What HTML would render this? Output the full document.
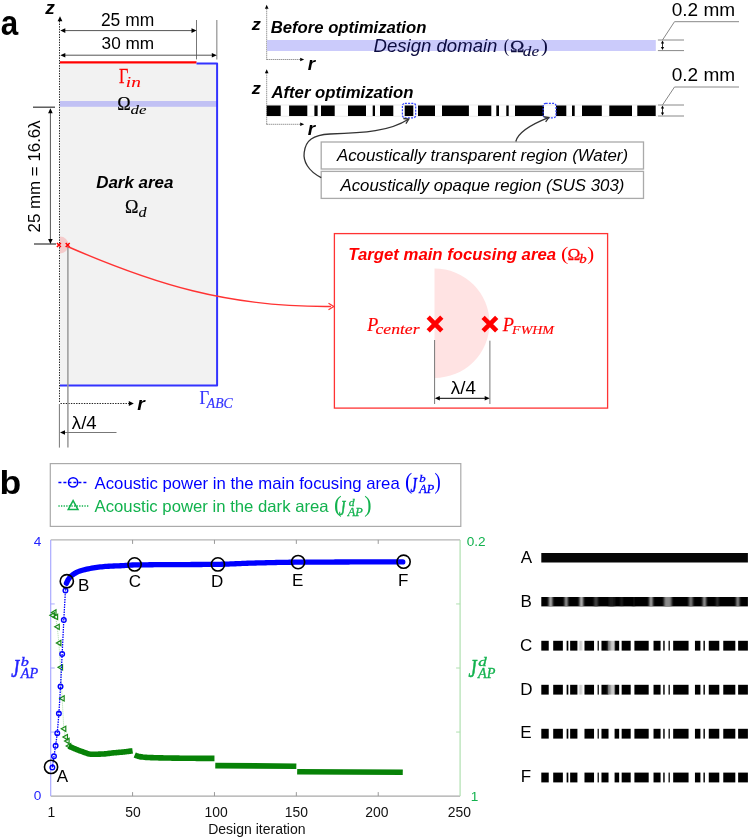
<!DOCTYPE html>
<html><head><meta charset="utf-8"><style>
html,body{margin:0;padding:0;background:#fff;}
svg{display:block;will-change:transform;}
</style></head><body>
<svg width="750" height="839" viewBox="0 0 750 839">
<defs><filter id="bl" x="-5%" y="-50%" width="110%" height="200%"><feGaussianBlur stdDeviation="0.9 0.5"/></filter></defs>
<rect x="0" y="0" width="750" height="839" fill="#fff"/>
<text transform="translate(0.87,34.60) scale(0.9065,1)" font-family="Liberation Sans" font-size="34.55" font-weight="bold" fill="#000">a</text>
<rect x="60.00" y="63.50" width="157.00" height="322.00" fill="#f2f2f2" />
<rect x="60.00" y="101.00" width="157.00" height="5.80" fill="#c1c1f4" />
<line x1="60" y1="62.4" x2="196.5" y2="62.4" stroke="#ff0000" stroke-width="2.3" />
<path d="M196.5,63.6 H217.1 V385.6 H60" fill="none" stroke="#3333ff" stroke-width="2" stroke-linejoin="round"/>
<line x1="59.5" y1="21" x2="59.5" y2="403" stroke="#222" stroke-width="1" stroke-dasharray="1.4,1.2"/>
<path d="M60.00,16.20 L62.40,21.20 L57.60,21.20 Z" fill="#000"/>
<text transform="translate(45.23,13.80) scale(1.0742,1)" font-family="Liberation Sans" font-size="17.82" font-weight="bold" font-style="italic" fill="#000">z</text>
<line x1="60.5" y1="403.5" x2="129.5" y2="403.5" stroke="#222" stroke-width="1" stroke-dasharray="1.4,1.2"/>
<path d="M133.80,403.50 L128.80,405.90 L128.80,401.10 Z" fill="#000"/>
<text transform="translate(137.18,409.60) scale(1.0093,1)" font-family="Liberation Sans" font-size="19.27" font-weight="bold" font-style="italic" fill="#000">r</text>
<line x1="196.5" y1="20" x2="196.5" y2="59.4" stroke="#777" stroke-width="1" />
<line x1="216.8" y1="20" x2="216.8" y2="59.4" stroke="#999" stroke-width="1.3" />
<line x1="64" y1="30.6" x2="192" y2="30.6" stroke="#555" stroke-width="1" />
<path d="M60.30,30.60 L65.30,28.30 L65.30,32.90 Z" fill="#000"/>
<path d="M196.50,30.60 L191.50,32.90 L191.50,28.30 Z" fill="#000"/>
<line x1="64" y1="55.2" x2="212.5" y2="55.2" stroke="#555" stroke-width="1" />
<path d="M60.30,55.20 L65.30,52.90 L65.30,57.50 Z" fill="#000"/>
<path d="M216.80,55.20 L211.80,57.50 L211.80,52.90 Z" fill="#000"/>
<text transform="translate(100.91,26.00)" font-family="Liberation Sans" font-size="17.45" fill="#000">25 mm</text>
<text transform="translate(101.61,49.00)" font-family="Liberation Sans" font-size="17.22" fill="#000">30 mm</text>
<text transform="translate(118.94,82.70) scale(0.7961,1)" font-family="Liberation Serif" font-size="20.31" fill="#ff0000" stroke="#ff0000" stroke-width="0.25">Γ</text>
<text transform="translate(125.78,86.50) scale(1.2718,1)" font-family="Liberation Serif" font-size="15.27" font-style="italic" fill="#ff0000" stroke="#ff0000" stroke-width="0.08">in</text>
<text transform="translate(117.15,110.10) scale(0.9101,1)" font-family="Liberation Serif" font-size="19.85" fill="#000" stroke="#000" stroke-width="0.25">Ω</text>
<text transform="translate(130.50,114.00) scale(1.3252,1)" font-family="Liberation Serif" font-size="12.74" font-style="italic" fill="#000" stroke="#000" stroke-width="0.08">de</text>
<text transform="translate(96.23,188.20)" font-family="Liberation Sans" font-size="16.92" font-weight="bold" font-style="italic" fill="#000">Dark area</text>
<text transform="translate(125.05,212.60) scale(0.9172,1)" font-family="Liberation Serif" font-size="19.69" fill="#000" stroke="#000" stroke-width="0.25">Ω</text>
<text transform="translate(138.52,216.80) scale(1.1769,1)" font-family="Liberation Serif" font-size="13.72" font-style="italic" fill="#000" stroke="#000" stroke-width="0.08">d</text>
<line x1="33" y1="107.2" x2="55" y2="107.2" stroke="#444" stroke-width="1.3" />
<line x1="34" y1="244" x2="56" y2="244" stroke="#444" stroke-width="1.3" />
<line x1="50.4" y1="112" x2="50.4" y2="240" stroke="#555" stroke-width="1" />
<path d="M50.40,108.20 L52.70,113.20 L48.10,113.20 Z" fill="#000"/>
<path d="M50.40,244.00 L48.10,239.00 L52.70,239.00 Z" fill="#000"/>
<text transform="translate(40.30,232.46) rotate(-90) scale(1.0299,1)" font-family="Liberation Sans" font-size="16.408" fill="#000">25 mm = 16.6λ</text>
<path d="M60,236.5 A8.5,8.5 0 0 1 60,253.5 Z" fill="#f4c4c4" opacity="0.85"/>
<line x1="67.9" y1="246" x2="67.9" y2="447.6" stroke="#999" stroke-width="1.5" />
<line x1="59.4" y1="404" x2="59.4" y2="447.6" stroke="#777" stroke-width="1" />
<line x1="64" y1="432.5" x2="116.5" y2="432.5" stroke="#777" stroke-width="1" />
<path d="M60.00,432.50 L65.00,430.30 L65.00,434.70 Z" fill="#000"/>
<text transform="translate(71.84,429.10) scale(1.0268,1)" font-family="Liberation Sans" font-size="18.13" fill="#000">λ/4</text>
<path d="M56.9,243 L60.9,247 M60.9,243 L56.9,247" stroke="#ff0000" stroke-width="1.5"/>
<path d="M65.7,243 L69.7,247 M69.7,243 L65.7,247" stroke="#ff0000" stroke-width="1.5"/>
<path d="M67.5,246.5 C153,283.7 227.7,307.4 331,306.5" fill="none" stroke="#ff3333" stroke-width="1.4"/>
<path d="M328.5,303.3 L333.8,306.5 L328.5,309.7" fill="none" stroke="#ff3333" stroke-width="1.2"/>
<text transform="translate(199.62,403.90) scale(0.8503,1)" font-family="Liberation Serif" font-size="19.69" fill="#3333ff" stroke="#3333ff" stroke-width="0.25">Γ</text>
<text transform="translate(206.80,407.60) scale(0.9581,1)" font-family="Liberation Serif" font-size="14.31" font-style="italic" fill="#3333ff" stroke="#3333ff" stroke-width="0.2">ABC</text>
<line x1="266.7" y1="8.7" x2="266.7" y2="59.5" stroke="#444" stroke-width="0.8" stroke-dasharray="1,1"/>
<path d="M266.70,4.70 L268.50,8.70 L264.90,8.70 Z" fill="#000"/>
<line x1="266.7" y1="59.5" x2="300.5" y2="59.5" stroke="#444" stroke-width="0.8" stroke-dasharray="1,1"/>
<path d="M304.20,59.50 L300.20,61.30 L300.20,57.70 Z" fill="#000"/>
<text transform="translate(251.73,30.40) scale(1.0960,1)" font-family="Liberation Sans" font-size="16.55" font-weight="bold" font-style="italic" fill="#000">z</text>
<text transform="translate(307.79,70.20) scale(1.0227,1)" font-family="Liberation Sans" font-size="18.55" font-weight="bold" font-style="italic" fill="#000">r</text>
<text transform="translate(270.64,33.10)" font-family="Liberation Sans" font-size="16.69" font-weight="bold" font-style="italic" fill="#000">Before optimization</text>
<rect x="267.00" y="40.00" width="388.80" height="11.00" fill="#cbcbfb" />
<text transform="translate(373.59,52.10)" font-family="Liberation Sans" font-size="18.57" font-style="italic" fill="#0c0c40">Design domain</text>
<text transform="translate(503.85,52.06) scale(0.8856,1)" font-family="Liberation Serif" font-size="18.15" fill="#0c0c40" stroke="#0c0c40" stroke-width="0">(</text>
<text transform="translate(509.89,52.00) scale(1.1008,1)" font-family="Liberation Serif" font-size="17.54" fill="#0c0c40" stroke="#0c0c40" stroke-width="0.25">Ω</text>
<text transform="translate(522.78,56.10) scale(1.2299,1)" font-family="Liberation Serif" font-size="14.00" font-style="italic" fill="#0c0c40" stroke="#0c0c40" stroke-width="0.08">de</text>
<text transform="translate(541.04,52.04) scale(1.1336,1)" font-family="Liberation Serif" font-size="18.24" fill="#0c0c40" stroke="#0c0c40" stroke-width="0">)</text>
<line x1="657.9" y1="40" x2="684" y2="40" stroke="#888" stroke-width="1" />
<line x1="657.9" y1="50.6" x2="684" y2="50.6" stroke="#888" stroke-width="1" />
<line x1="662.5" y1="43" x2="662.5" y2="47.6" stroke="#000" stroke-width="0.8" />
<path d="M662.50,40.50 L664.10,43.50 L660.90,43.50 Z" fill="#000"/>
<path d="M662.50,50.10 L660.90,47.10 L664.10,47.10 Z" fill="#000"/>
<path d="M662.5,40 L674.5,21.7 H739" fill="none" stroke="#888" stroke-width="1"/>
<text transform="translate(671.70,15.80)" font-family="Liberation Sans" font-size="19.05" fill="#000">0.2 mm</text>
<line x1="266.7" y1="73.3" x2="266.7" y2="124.3" stroke="#444" stroke-width="0.8" stroke-dasharray="1,1"/>
<path d="M266.70,69.30 L268.50,73.30 L264.90,73.30 Z" fill="#000"/>
<line x1="266.7" y1="124.3" x2="300.5" y2="124.3" stroke="#444" stroke-width="0.8" stroke-dasharray="1,1"/>
<path d="M304.20,124.30 L300.20,126.10 L300.20,122.50 Z" fill="#000"/>
<text transform="translate(251.73,94.00) scale(1.1464,1)" font-family="Liberation Sans" font-size="15.82" font-weight="bold" font-style="italic" fill="#000">z</text>
<text transform="translate(307.79,135.00) scale(1.0754,1)" font-family="Liberation Sans" font-size="17.64" font-weight="bold" font-style="italic" fill="#000">r</text>
<text transform="translate(271.42,97.80)" font-family="Liberation Sans" font-size="16.72" font-weight="bold" font-style="italic" fill="#000">After optimization</text>
<line x1="657.9" y1="105" x2="684" y2="105" stroke="#888" stroke-width="1" />
<line x1="657.9" y1="116" x2="684" y2="116" stroke="#888" stroke-width="1" />
<line x1="662.5" y1="108" x2="662.5" y2="113" stroke="#000" stroke-width="0.8" />
<path d="M662.50,105.50 L664.10,108.50 L660.90,108.50 Z" fill="#000"/>
<path d="M662.50,115.50 L660.90,112.50 L664.10,112.50 Z" fill="#000"/>
<path d="M662.5,105 L674.5,87 H739" fill="none" stroke="#888" stroke-width="1"/>
<text transform="translate(671.70,81.10)" font-family="Liberation Sans" font-size="19.05" fill="#000">0.2 mm</text>
<line x1="267" y1="105" x2="657" y2="105" stroke="#e6e6e6" stroke-width="0.8" />
<line x1="267" y1="116.3" x2="657" y2="116.3" stroke="#e6e6e6" stroke-width="0.8" />
<rect x="266.70" y="105.50" width="14.00" height="10.50" fill="#000" />
<rect x="289.10" y="105.50" width="18.20" height="10.50" fill="#000" />
<rect x="314.40" y="105.50" width="3.20" height="10.50" fill="#000" />
<rect x="321.00" y="105.50" width="13.70" height="10.50" fill="#000" />
<rect x="348.00" y="105.50" width="18.00" height="10.50" fill="#000" />
<rect x="372.70" y="105.50" width="2.30" height="10.50" fill="#000" />
<rect x="380.00" y="105.50" width="13.30" height="10.50" fill="#000" />
<rect x="404.70" y="105.50" width="8.60" height="10.50" fill="#000" />
<rect x="418.00" y="105.50" width="17.00" height="10.50" fill="#000" />
<rect x="442.00" y="105.50" width="26.90" height="10.50" fill="#000" />
<rect x="478.00" y="105.50" width="13.30" height="10.50" fill="#000" />
<rect x="496.30" y="105.50" width="2.70" height="10.50" fill="#000" />
<rect x="506.30" y="105.50" width="2.40" height="10.50" fill="#000" />
<rect x="515.00" y="105.50" width="29.00" height="10.50" fill="#000" />
<rect x="556.00" y="105.50" width="10.30" height="10.50" fill="#000" />
<rect x="572.00" y="105.50" width="2.70" height="10.50" fill="#000" />
<rect x="582.00" y="105.50" width="19.80" height="10.50" fill="#000" />
<rect x="609.30" y="105.50" width="22.70" height="10.50" fill="#000" />
<rect x="637.30" y="105.50" width="18.40" height="10.50" fill="#000" />
<rect x="402.4" y="103.3" width="13.3" height="14.5" rx="2.5" fill="none" stroke="#3344ff" stroke-width="1.2" stroke-dasharray="2,1.2"/>
<rect x="543.2" y="103.3" width="12.8" height="14.5" rx="2.5" fill="none" stroke="#3344ff" stroke-width="1.2" stroke-dasharray="2,1.2"/>
<rect x="321.2" y="142" width="322.3" height="27" fill="#fff" stroke="#aaa" stroke-width="1.3"/>
<rect x="321.2" y="171.4" width="322.3" height="27" fill="#fff" stroke="#aaa" stroke-width="1.3"/>
<text transform="translate(336.92,161.20)" font-family="Liberation Sans" font-size="16.86" font-style="italic" fill="#000">Acoustically transparent region (Water)</text>
<text transform="translate(340.52,191.00)" font-family="Liberation Sans" font-size="16.81" font-style="italic" fill="#000">Acoustically opaque region (SUS 303)</text>
<path d="M321.2,177.6 C308,171 303,161 304.2,152.5 C305.5,140 313,135 330,134 C365,133 390,131 408.4,119.2" fill="none" stroke="#333" stroke-width="1.3"/>
<path d="M403.32,118.48 L408.80,119.00 L405.93,123.69" fill="none" stroke="#333" stroke-width="1.3" stroke-linejoin="miter"/>
<path d="M515.8,141.5 C518,133 530,125 548.4,117.7" fill="none" stroke="#333" stroke-width="1.3"/>
<path d="M543.37,116.62 L548.80,117.50 L545.63,121.99" fill="none" stroke="#333" stroke-width="1.3" stroke-linejoin="miter"/>
<rect x="334.4" y="233.6" width="273.2" height="174.5" fill="#fff" stroke="#ff3333" stroke-width="1.3"/>
<path d="M434.5,268.6 A55,54.7 0 0 1 434.5,378 Z" fill="#ffe3e3"/>
<text transform="translate(348.33,259.80)" font-family="Liberation Sans" font-size="16.74" font-weight="bold" font-style="italic" fill="#ff0000">Target main focusing area</text>
<text transform="translate(560.98,259.91) scale(1.1948,1)" font-family="Liberation Serif" font-size="18.38" fill="#ff0000" stroke="#ff0000" stroke-width="0">(</text>
<text transform="translate(567.48,259.60) scale(1.0120,1)" font-family="Liberation Serif" font-size="17.23" fill="#ff0000" stroke="#ff0000" stroke-width="0.25">Ω</text>
<text transform="translate(579.36,263.20) scale(1.2654,1)" font-family="Liberation Serif" font-size="11.77" font-style="italic" fill="#ff0000" stroke="#ff0000" stroke-width="0.25">b</text>
<text transform="translate(587.34,259.90) scale(1.1198,1)" font-family="Liberation Serif" font-size="18.47" fill="#ff0000" stroke="#ff0000" stroke-width="0">)</text>
<path d="M428.2,317.2 L441.8,330.8 M441.8,317.2 L428.2,330.8" stroke="#ff0000" stroke-width="4.6"/>
<path d="M483.09999999999997,317.3 L496.7,330.90000000000003 M496.7,317.3 L483.09999999999997,330.90000000000003" stroke="#ff0000" stroke-width="4.6"/>
<text transform="translate(367.33,330.60) scale(0.9289,1)" font-family="Liberation Serif" font-size="19.23" font-style="italic" fill="#ff0000" stroke="#ff0000" stroke-width="0.25">P</text>
<text transform="translate(375.56,334.30) scale(1.2438,1)" font-family="Liberation Serif" font-size="14.15" font-style="italic" fill="#ff0000" stroke="#ff0000" stroke-width="0.15">center</text>
<text transform="translate(502.73,330.60) scale(0.9466,1)" font-family="Liberation Serif" font-size="19.23" font-style="italic" fill="#ff0000" stroke="#ff0000" stroke-width="0.25">P</text>
<text transform="translate(512.12,334.30) scale(1.0680,1)" font-family="Liberation Serif" font-size="13.08" font-style="italic" fill="#ff0000" stroke="#ff0000" stroke-width="0.15">FWHM</text>
<line x1="434.6" y1="340" x2="434.6" y2="404" stroke="#777" stroke-width="1" />
<line x1="489.9" y1="340.7" x2="489.9" y2="404" stroke="#777" stroke-width="1" />
<line x1="439" y1="398.3" x2="485.5" y2="398.3" stroke="#000" stroke-width="1" />
<path d="M434.80,398.30 L439.80,396.10 L439.80,400.50 Z" fill="#000"/>
<path d="M489.70,398.30 L484.70,400.50 L484.70,396.10 Z" fill="#000"/>
<text transform="translate(450.84,393.50) scale(1.0130,1)" font-family="Liberation Sans" font-size="18.53" fill="#000">λ/4</text>
<text transform="translate(-0.57,493.80) scale(1.0541,1)" font-family="Liberation Sans" font-size="33.73" font-weight="bold" fill="#000">b</text>
<rect x="50.3" y="463.6" width="410.5" height="62.8" fill="#fff" stroke="#aaa" stroke-width="1.2"/>
<line x1="58.4" y1="482.4" x2="88.1" y2="482.4" stroke="#0000ff" stroke-width="1.5" stroke-dasharray="3,2"/>
<circle cx="73.1" cy="482.4" r="4.6" fill="none" stroke="#0000ff" stroke-width="1.5"/>
<line x1="58.4" y1="506" x2="88.5" y2="506" stroke="#12b24e" stroke-width="1.5" stroke-dasharray="1.3,1.3"/>
<path d="M73.1,500.6 L78,509.6 L68.2,509.6 Z" fill="none" stroke="#12b24e" stroke-width="1.5"/>
<text transform="translate(94.59,488.70)" font-family="Liberation Sans" font-size="16.74" fill="#0000ff">Acoustic power in the main focusing area</text>
<text transform="translate(405.00,489.07) scale(0.9342,1)" font-family="Liberation Serif" font-size="23.08" fill="#0000ff" stroke="#0000ff" stroke-width="0">(</text>
<text transform="translate(410.51,491.80) scale(0.6510,1)" font-family="Liberation Serif" font-size="22.00" font-style="italic" fill="#0000ff" stroke="#0000ff" stroke-width="0.6">J</text>
<text transform="translate(419.35,481.90) scale(1.1863,1)" font-family="Liberation Serif" font-size="10.79" font-style="italic" fill="#0000ff" stroke="#0000ff" stroke-width="0.3">b</text>
<text transform="translate(419.13,492.60) scale(1.0392,1)" font-family="Liberation Serif" font-size="11.85" font-style="italic" fill="#0000ff" stroke="#0000ff" stroke-width="0.3">AP</text>
<text transform="translate(434.60,489.05) scale(0.8090,1)" font-family="Liberation Serif" font-size="23.20" fill="#0000ff" stroke="#0000ff" stroke-width="0">)</text>
<text transform="translate(94.59,511.50)" font-family="Liberation Sans" font-size="16.72" fill="#12b24e">Acoustic power in the dark area</text>
<text transform="translate(333.92,512.06) scale(1.0220,1)" font-family="Liberation Serif" font-size="22.64" fill="#12b24e" stroke="#12b24e" stroke-width="0">(</text>
<text transform="translate(339.11,514.70) scale(0.6650,1)" font-family="Liberation Serif" font-size="21.54" font-style="italic" fill="#12b24e" stroke="#12b24e" stroke-width="0.6">J</text>
<text transform="translate(348.65,505.60) scale(1.1279,1)" font-family="Liberation Serif" font-size="10.36" font-style="italic" fill="#12b24e" stroke="#12b24e" stroke-width="0.3">d</text>
<text transform="translate(347.73,515.50) scale(1.0392,1)" font-family="Liberation Serif" font-size="11.85" font-style="italic" fill="#12b24e" stroke="#12b24e" stroke-width="0.3">AP</text>
<text transform="translate(364.21,512.04) scale(0.9597,1)" font-family="Liberation Serif" font-size="22.75" fill="#12b24e" stroke="#12b24e" stroke-width="0">)</text>
<line x1="50.7" y1="539.9" x2="460.1" y2="539.9" stroke="#b4b4b4" stroke-width="1.2" />
<line x1="50.7" y1="796.1" x2="460.1" y2="796.1" stroke="#a8a8a8" stroke-width="1.2" />
<line x1="50.7" y1="539.9" x2="50.7" y2="796.1" stroke="#aaaaff" stroke-width="1.2" />
<line x1="460.1" y1="539.9" x2="460.1" y2="796.1" stroke="#b0e0b0" stroke-width="1.2" />
<line x1="132.58" y1="796.1" x2="132.58" y2="792.1" stroke="#999" stroke-width="1" />
<line x1="132.58" y1="539.9" x2="132.58" y2="543.9" stroke="#999" stroke-width="1" />
<line x1="214.46000000000004" y1="796.1" x2="214.46000000000004" y2="792.1" stroke="#999" stroke-width="1" />
<line x1="214.46000000000004" y1="539.9" x2="214.46000000000004" y2="543.9" stroke="#999" stroke-width="1" />
<line x1="296.34000000000003" y1="796.1" x2="296.34000000000003" y2="792.1" stroke="#999" stroke-width="1" />
<line x1="296.34000000000003" y1="539.9" x2="296.34000000000003" y2="543.9" stroke="#999" stroke-width="1" />
<line x1="378.22" y1="796.1" x2="378.22" y2="792.1" stroke="#999" stroke-width="1" />
<line x1="378.22" y1="539.9" x2="378.22" y2="543.9" stroke="#999" stroke-width="1" />
<line x1="50.7" y1="732.05" x2="54.7" y2="732.05" stroke="#aaaaff" stroke-width="1" />
<line x1="460.1" y1="732.05" x2="456.1" y2="732.05" stroke="#b0e0b0" stroke-width="1" />
<line x1="50.7" y1="668.0" x2="54.7" y2="668.0" stroke="#aaaaff" stroke-width="1" />
<line x1="460.1" y1="668.0" x2="456.1" y2="668.0" stroke="#b0e0b0" stroke-width="1" />
<line x1="50.7" y1="603.95" x2="54.7" y2="603.95" stroke="#aaaaff" stroke-width="1" />
<line x1="460.1" y1="603.95" x2="456.1" y2="603.95" stroke="#b0e0b0" stroke-width="1" />
<text transform="translate(47.44,816.70)" font-family="Liberation Sans" font-size="13.90" fill="#111">1</text>
<text transform="translate(125.33,816.60)" font-family="Liberation Sans" font-size="13.90" fill="#111">50</text>
<text transform="translate(204.54,816.80)" font-family="Liberation Sans" font-size="13.90" fill="#111">100</text>
<text transform="translate(284.84,816.80)" font-family="Liberation Sans" font-size="13.90" fill="#111">150</text>
<text transform="translate(365.19,816.80)" font-family="Liberation Sans" font-size="13.90" fill="#111">200</text>
<text transform="translate(447.79,816.80)" font-family="Liberation Sans" font-size="13.90" fill="#111">250</text>
<text transform="translate(208.16,833.60)" font-family="Liberation Sans" font-size="14.03" fill="#111">Design iteration</text>
<text transform="translate(33.67,545.70)" font-family="Liberation Sans" font-size="13.60" fill="#2222ff">4</text>
<text transform="translate(33.83,800.40)" font-family="Liberation Sans" font-size="13.60" fill="#2222ff">0</text>
<text transform="translate(466.63,546.10)" font-family="Liberation Sans" font-size="13.60" fill="#12b24e">0.2</text>
<text transform="translate(470.76,801.20)" font-family="Liberation Sans" font-size="13.60" fill="#12b24e">1</text>
<polyline points="52.34,615.30 53.98,612.50 55.61,616.90 57.25,626.80 58.89,643.00 60.53,667.30 62.16,698.40 63.80,728.80 65.44,737.10 67.08,741.00 68.71,746.10" fill="none" stroke="#a6dca6" stroke-width="1" stroke-dasharray="1,1"/>
<path d="M49.84,615.30 L54.34,612.70 L54.34,617.90 Z" fill="none" stroke="#1a8a1a" stroke-width="1.2"/>
<path d="M51.48,612.50 L55.98,609.90 L55.98,615.10 Z" fill="none" stroke="#1a8a1a" stroke-width="1.2"/>
<path d="M53.11,616.90 L57.61,614.30 L57.61,619.50 Z" fill="none" stroke="#1a8a1a" stroke-width="1.2"/>
<path d="M54.75,626.80 L59.25,624.20 L59.25,629.40 Z" fill="none" stroke="#1a8a1a" stroke-width="1.2"/>
<path d="M56.39,643.00 L60.89,640.40 L60.89,645.60 Z" fill="none" stroke="#1a8a1a" stroke-width="1.2"/>
<path d="M58.03,667.30 L62.53,664.70 L62.53,669.90 Z" fill="none" stroke="#1a8a1a" stroke-width="1.2"/>
<path d="M59.66,698.40 L64.16,695.80 L64.16,701.00 Z" fill="none" stroke="#1a8a1a" stroke-width="1.2"/>
<path d="M61.30,728.80 L65.80,726.20 L65.80,731.40 Z" fill="none" stroke="#1a8a1a" stroke-width="1.2"/>
<path d="M62.94,737.10 L67.44,734.50 L67.44,739.70 Z" fill="none" stroke="#1a8a1a" stroke-width="1.2"/>
<path d="M64.58,741.00 L69.08,738.40 L69.08,743.60 Z" fill="none" stroke="#1a8a1a" stroke-width="1.2"/>
<path d="M66.21,746.10 L70.71,743.50 L70.71,748.70 Z" fill="none" stroke="#1a8a1a" stroke-width="1.2"/>
<polyline points="68.71,746.10 69.52,746.46 70.33,746.83 71.14,747.18 71.95,747.53 72.76,747.88 73.56,748.22 74.37,748.56 75.18,748.90 75.99,749.23 76.80,749.56 77.61,749.89 78.41,750.22 79.22,750.54 80.03,750.84 80.84,751.14 81.65,751.41 82.46,751.70 83.27,751.99 84.07,752.30 84.88,752.61 85.69,752.91 86.50,753.19 87.31,753.46 88.12,753.70 88.92,753.91 89.73,754.08 90.54,754.21 91.35,754.28 92.16,754.30 92.97,754.30 93.78,754.29 94.58,754.28 95.39,754.26 96.20,754.24 97.01,754.22 97.82,754.20 98.63,754.17 99.43,754.14 100.24,754.11 101.05,754.07 101.86,754.04 102.67,754.00 103.48,753.96 104.28,753.91 105.09,753.84 105.90,753.76 106.71,753.67 107.52,753.58 108.33,753.48 109.14,753.38 109.94,753.28 110.75,753.18 111.56,753.08 112.37,752.99 113.18,752.91 113.99,752.83 114.79,752.75 115.60,752.68 116.41,752.61 117.22,752.54 118.03,752.47 118.84,752.40 119.65,752.33 120.45,752.26 121.26,752.18 122.07,752.10 122.88,752.02 123.69,751.94 124.50,751.85 125.30,751.76 126.11,751.67 126.92,751.57 127.73,751.47 128.54,751.36 129.35,751.25 130.15,751.14 130.96,751.03 131.77,750.92 132.58,750.80" fill="none" stroke="#078207" stroke-width="5.6" stroke-linejoin="round"/>
<polyline points="134.71,755.00 136.34,755.66 137.96,756.23 139.59,756.64 141.22,756.87 142.85,757.07 144.47,757.22 146.10,757.35 147.73,757.45 149.36,757.52 150.98,757.58 152.61,757.63 154.24,757.69 155.87,757.74 157.49,757.78 159.12,757.83 160.75,757.87 162.38,757.91 164.01,757.94 165.63,757.98 167.26,758.01 168.89,758.04 170.52,758.06 172.14,758.09 173.77,758.11 175.40,758.13 177.03,758.15 178.65,758.17 180.28,758.19 181.91,758.20 183.54,758.22 185.16,758.23 186.79,758.25 188.42,758.26 190.05,758.28 191.67,758.29 193.30,758.30 194.93,758.32 196.56,758.33 198.18,758.34 199.81,758.35 201.44,758.36 203.07,758.37 204.69,758.38 206.32,758.38 207.95,758.39 209.58,758.39 211.20,758.40 212.83,758.40 214.46,758.40" fill="none" stroke="#078207" stroke-width="5.6" stroke-linejoin="round"/>
<polyline points="215.28,765.6 296.34,766.2" fill="none" stroke="#078207" stroke-width="5.6"/>
<polyline points="297.16,771.7 402.78,772.2" fill="none" stroke="#078207" stroke-width="5.6"/>
<polyline points="52.34,767.50 53.98,756.30 55.61,745.80 57.25,733.20 58.89,713.60 60.53,686.50 62.16,653.90 63.80,620.10 65.44,590.50 67.08,583.90 68.71,579.00" fill="none" stroke="#0000ff" stroke-width="1.3" stroke-dasharray="1.5,1"/>
<circle cx="52.34" cy="767.50" r="2.3" fill="none" stroke="#0000ff" stroke-width="1.4"/>
<circle cx="53.98" cy="756.30" r="2.3" fill="none" stroke="#0000ff" stroke-width="1.4"/>
<circle cx="55.61" cy="745.80" r="2.3" fill="none" stroke="#0000ff" stroke-width="1.4"/>
<circle cx="57.25" cy="733.20" r="2.3" fill="none" stroke="#0000ff" stroke-width="1.4"/>
<circle cx="58.89" cy="713.60" r="2.3" fill="none" stroke="#0000ff" stroke-width="1.4"/>
<circle cx="60.53" cy="686.50" r="2.3" fill="none" stroke="#0000ff" stroke-width="1.4"/>
<circle cx="62.16" cy="653.90" r="2.3" fill="none" stroke="#0000ff" stroke-width="1.4"/>
<circle cx="63.80" cy="620.10" r="2.3" fill="none" stroke="#0000ff" stroke-width="1.4"/>
<circle cx="65.44" cy="590.50" r="2.3" fill="none" stroke="#0000ff" stroke-width="1.4"/>
<polyline points="66.42,583.20 68.11,579.80 69.80,577.41 71.49,575.74 73.18,574.42 74.87,573.33 76.56,572.40 78.25,571.62 79.94,571.00 81.63,570.46 83.32,569.99 85.01,569.56 86.70,569.17 88.39,568.81 90.08,568.48 91.77,568.17 93.47,567.88 95.16,567.61 96.85,567.36 98.54,567.14 100.23,566.94 101.92,566.78 103.61,566.62 105.30,566.48 106.99,566.36 108.68,566.25 110.37,566.15 112.06,566.06 113.75,565.99 115.44,565.93 117.13,565.88 118.82,565.83 120.51,565.76 122.20,565.69 123.89,565.58 125.58,565.45 127.27,565.31 128.96,565.18 130.65,565.07 132.34,565.01 134.03,564.97 135.72,564.94 137.41,564.91 139.10,564.89 140.79,564.86 142.48,564.84 144.17,564.82 145.86,564.80 147.55,564.78 149.24,564.76 150.93,564.75 152.62,564.73 154.31,564.72 156.01,564.71 157.70,564.70 159.39,564.69 161.08,564.68 162.77,564.66 164.46,564.65 166.15,564.64 167.84,564.63 169.53,564.62 171.22,564.61 172.91,564.60 174.60,564.59 176.29,564.58 177.98,564.57 179.67,564.57 181.36,564.56 183.05,564.55 184.74,564.54 186.43,564.54 188.12,564.53 189.81,564.53 191.50,564.52 193.19,564.51 194.88,564.51 196.57,564.50 198.26,564.49 199.95,564.49 201.64,564.48 203.33,564.47 205.02,564.46 206.71,564.45 208.40,564.44 210.09,564.43 211.78,564.42 213.47,564.41 215.16,564.39 216.85,564.37 218.54,564.34 220.24,564.31 221.93,564.26 223.62,564.21 225.31,564.16 227.00,564.10 228.69,564.04 230.38,563.97 232.07,563.90 233.76,563.83 235.45,563.76 237.14,563.69 238.83,563.61 240.52,563.54 242.21,563.47 243.90,563.40 245.59,563.33 247.28,563.26 248.97,563.20 250.66,563.14 252.35,563.09 254.04,563.04 255.73,562.99 257.42,562.95 259.11,562.91 260.80,562.86 262.49,562.82 264.18,562.78 265.87,562.74 267.56,562.69 269.25,562.65 270.94,562.61 272.63,562.57 274.32,562.54 276.01,562.50 277.70,562.46 279.39,562.43 281.08,562.40 282.78,562.36 284.47,562.34 286.16,562.31 287.85,562.28 289.54,562.26 291.23,562.24 292.92,562.23 294.61,562.21 296.30,562.20 297.99,562.19 299.68,562.18 301.37,562.17 303.06,562.16 304.75,562.16 306.44,562.15 308.13,562.14 309.82,562.13 311.51,562.12 313.20,562.11 314.89,562.11 316.58,562.10 318.27,562.09 319.96,562.08 321.65,562.08 323.34,562.07 325.03,562.06 326.72,562.05 328.41,562.05 330.10,562.04 331.79,562.03 333.48,562.03 335.17,562.02 336.86,562.02 338.55,562.01 340.24,562.01 341.93,562.00 343.62,561.99 345.31,561.99 347.01,561.98 348.70,561.98 350.39,561.97 352.08,561.97 353.77,561.96 355.46,561.96 357.15,561.96 358.84,561.95 360.53,561.95 362.22,561.94 363.91,561.94 365.60,561.94 367.29,561.93 368.98,561.93 370.67,561.93 372.36,561.93 374.05,561.92 375.74,561.92 377.43,561.92 379.12,561.92 380.81,561.91 382.50,561.91 384.19,561.91 385.88,561.91 387.57,561.91 389.26,561.90 390.95,561.90 392.64,561.90 394.33,561.90 396.02,561.90 397.71,561.90 399.40,561.90 401.09,561.90 402.78,561.90" fill="none" stroke="#0000ff" stroke-width="5.3" stroke-linejoin="round" stroke-linecap="round"/>
<circle cx="51.05" cy="766.9" r="6.6" fill="none" stroke="#000" stroke-width="1.6"/>
<circle cx="66.8" cy="581.2" r="6.6" fill="none" stroke="#000" stroke-width="1.6"/>
<circle cx="134.6" cy="564.4" r="6.6" fill="none" stroke="#000" stroke-width="1.6"/>
<circle cx="217.9" cy="564.4" r="6.6" fill="none" stroke="#000" stroke-width="1.6"/>
<circle cx="298.1" cy="562.1" r="6.6" fill="none" stroke="#000" stroke-width="1.6"/>
<circle cx="403.6" cy="561.7" r="6.6" fill="none" stroke="#000" stroke-width="1.6"/>
<text transform="translate(56.69,781.80)" font-family="Liberation Sans" font-size="17.00" fill="#000">A</text>
<text transform="translate(77.92,590.70)" font-family="Liberation Sans" font-size="17.00" fill="#000">B</text>
<text transform="translate(128.73,587.40)" font-family="Liberation Sans" font-size="17.00" fill="#000">C</text>
<text transform="translate(211.02,587.20)" font-family="Liberation Sans" font-size="17.00" fill="#000">D</text>
<text transform="translate(292.02,585.80)" font-family="Liberation Sans" font-size="17.00" fill="#000">E</text>
<text transform="translate(398.12,585.80)" font-family="Liberation Sans" font-size="17.00" fill="#000">F</text>
<text transform="translate(11.34,677.30) scale(0.7053,1)" font-family="Liberation Serif" font-size="25.54" font-style="italic" fill="#2222ff" stroke="#2222ff" stroke-width="0.6">J</text>
<text transform="translate(20.80,665.70) scale(1.2775,1)" font-family="Liberation Serif" font-size="12.75" font-style="italic" fill="#2222ff" stroke="#2222ff" stroke-width="0.3">b</text>
<text transform="translate(20.73,677.80) scale(0.9945,1)" font-family="Liberation Serif" font-size="14.31" font-style="italic" fill="#2222ff" stroke="#2222ff" stroke-width="0.3">AP</text>
<text transform="translate(468.53,677.30) scale(0.7269,1)" font-family="Liberation Serif" font-size="25.08" font-style="italic" fill="#12b24e" stroke="#12b24e" stroke-width="0.6">J</text>
<text transform="translate(478.19,665.70) scale(1.3641,1)" font-family="Liberation Serif" font-size="12.46" font-style="italic" fill="#12b24e" stroke="#12b24e" stroke-width="0.3">d</text>
<text transform="translate(478.03,677.80) scale(0.9945,1)" font-family="Liberation Serif" font-size="14.31" font-style="italic" fill="#12b24e" stroke="#12b24e" stroke-width="0.3">AP</text>
<text transform="translate(520.69,562.70)" font-family="Liberation Sans" font-size="17.00" fill="#000">A</text>
<text transform="translate(520.62,606.60)" font-family="Liberation Sans" font-size="17.00" fill="#000">B</text>
<text transform="translate(519.93,650.90)" font-family="Liberation Sans" font-size="17.00" fill="#000">C</text>
<text transform="translate(520.22,694.70)" font-family="Liberation Sans" font-size="17.00" fill="#000">D</text>
<text transform="translate(520.22,738.40)" font-family="Liberation Sans" font-size="17.00" fill="#000">E</text>
<text transform="translate(520.72,782.10)" font-family="Liberation Sans" font-size="17.00" fill="#000">F</text>
<rect x="541.30" y="553.00" width="206.60" height="9.50" fill="#060606" />
<rect x="541.30" y="597.00" width="206.60" height="9.40" fill="#000" />
<g filter="url(#bl)">
<rect x="548.80" y="597.00" width="3.60" height="9.40" fill="#b4b4b4" />
<rect x="564.70" y="597.00" width="3.00" height="9.40" fill="#a4a4a4" />
<rect x="579.60" y="597.00" width="3.60" height="9.40" fill="#bcbcbc" />
<rect x="594.00" y="597.00" width="4.00" height="9.40" fill="#404040" />
<rect x="608.60" y="597.00" width="6.00" height="9.40" fill="#1c1c1c" />
<rect x="620.85" y="597.00" width="1.50" height="9.40" fill="#333" />
<rect x="632.60" y="597.00" width="2.00" height="9.40" fill="#111" />
<rect x="649.30" y="597.00" width="3.40" height="9.40" fill="#acacac" />
<rect x="664.05" y="597.00" width="7.50" height="9.40" fill="#8a8a8a" />
<rect x="688.90" y="597.00" width="3.80" height="9.40" fill="#7a7a7a" />
<rect x="702.70" y="597.00" width="3.40" height="9.40" fill="#9a9a9a" />
<rect x="716.40" y="597.00" width="2.00" height="9.40" fill="#444" />
<rect x="736.30" y="597.00" width="3.00" height="9.40" fill="#9a9a9a" />
</g>
<rect x="541.30" y="640.80" width="7.44" height="9.80" fill="#000" />
<rect x="553.20" y="640.80" width="9.67" height="9.80" fill="#000" />
<rect x="566.63" y="640.80" width="1.70" height="9.80" fill="#000" />
<rect x="570.14" y="640.80" width="7.28" height="9.80" fill="#000" />
<rect x="584.48" y="640.80" width="9.56" height="9.80" fill="#000" />
<rect x="597.60" y="640.80" width="1.22" height="9.80" fill="#000" />
<rect x="601.47" y="640.80" width="7.06" height="9.80" fill="#000" />
<rect x="614.59" y="640.80" width="4.57" height="9.80" fill="#000" />
<rect x="621.66" y="640.80" width="9.03" height="9.80" fill="#000" />
<rect x="634.40" y="640.80" width="14.29" height="9.80" fill="#000" />
<rect x="653.52" y="640.80" width="7.06" height="9.80" fill="#000" />
<rect x="663.24" y="640.80" width="1.43" height="9.80" fill="#000" />
<rect x="668.55" y="640.80" width="1.27" height="9.80" fill="#000" />
<rect x="673.17" y="640.80" width="15.40" height="9.80" fill="#000" />
<rect x="694.95" y="640.80" width="5.47" height="9.80" fill="#000" />
<rect x="703.45" y="640.80" width="1.43" height="9.80" fill="#000" />
<rect x="708.76" y="640.80" width="10.52" height="9.80" fill="#000" />
<rect x="723.26" y="640.80" width="12.06" height="9.80" fill="#000" />
<rect x="738.13" y="640.80" width="9.77" height="9.80" fill="#000" />
<rect x="541.30" y="684.80" width="7.44" height="9.80" fill="#000" />
<rect x="553.20" y="684.80" width="9.67" height="9.80" fill="#000" />
<rect x="566.63" y="684.80" width="1.70" height="9.80" fill="#000" />
<rect x="570.14" y="684.80" width="7.28" height="9.80" fill="#000" />
<rect x="584.48" y="684.80" width="9.56" height="9.80" fill="#000" />
<rect x="597.60" y="684.80" width="1.22" height="9.80" fill="#000" />
<rect x="601.47" y="684.80" width="7.06" height="9.80" fill="#000" />
<rect x="614.59" y="684.80" width="4.57" height="9.80" fill="#000" />
<rect x="621.66" y="684.80" width="9.03" height="9.80" fill="#000" />
<rect x="634.40" y="684.80" width="14.29" height="9.80" fill="#000" />
<rect x="653.52" y="684.80" width="7.06" height="9.80" fill="#000" />
<rect x="663.24" y="684.80" width="1.43" height="9.80" fill="#000" />
<rect x="668.55" y="684.80" width="1.27" height="9.80" fill="#000" />
<rect x="673.17" y="684.80" width="15.40" height="9.80" fill="#000" />
<rect x="694.95" y="684.80" width="5.47" height="9.80" fill="#000" />
<rect x="703.45" y="684.80" width="1.43" height="9.80" fill="#000" />
<rect x="708.76" y="684.80" width="10.52" height="9.80" fill="#000" />
<rect x="723.26" y="684.80" width="12.06" height="9.80" fill="#000" />
<rect x="738.13" y="684.80" width="9.77" height="9.80" fill="#000" />
<rect x="541.30" y="728.80" width="7.44" height="9.80" fill="#000" />
<rect x="553.20" y="728.80" width="9.67" height="9.80" fill="#000" />
<rect x="566.63" y="728.80" width="1.70" height="9.80" fill="#000" />
<rect x="570.14" y="728.80" width="7.28" height="9.80" fill="#000" />
<rect x="584.48" y="728.80" width="9.56" height="9.80" fill="#000" />
<rect x="597.60" y="728.80" width="1.22" height="9.80" fill="#000" />
<rect x="601.47" y="728.80" width="7.06" height="9.80" fill="#000" />
<rect x="614.59" y="728.80" width="4.57" height="9.80" fill="#000" />
<rect x="621.66" y="728.80" width="9.03" height="9.80" fill="#000" />
<rect x="634.40" y="728.80" width="14.29" height="9.80" fill="#000" />
<rect x="653.52" y="728.80" width="7.06" height="9.80" fill="#000" />
<rect x="663.24" y="728.80" width="1.43" height="9.80" fill="#000" />
<rect x="668.55" y="728.80" width="1.27" height="9.80" fill="#000" />
<rect x="673.17" y="728.80" width="15.40" height="9.80" fill="#000" />
<rect x="694.95" y="728.80" width="5.47" height="9.80" fill="#000" />
<rect x="703.45" y="728.80" width="1.43" height="9.80" fill="#000" />
<rect x="708.76" y="728.80" width="10.52" height="9.80" fill="#000" />
<rect x="723.26" y="728.80" width="12.06" height="9.80" fill="#000" />
<rect x="738.13" y="728.80" width="9.77" height="9.80" fill="#000" />
<rect x="541.30" y="772.60" width="7.44" height="9.80" fill="#000" />
<rect x="553.20" y="772.60" width="9.67" height="9.80" fill="#000" />
<rect x="566.63" y="772.60" width="1.70" height="9.80" fill="#000" />
<rect x="570.14" y="772.60" width="7.28" height="9.80" fill="#000" />
<rect x="584.48" y="772.60" width="9.56" height="9.80" fill="#000" />
<rect x="597.60" y="772.60" width="1.22" height="9.80" fill="#000" />
<rect x="601.47" y="772.60" width="7.06" height="9.80" fill="#000" />
<rect x="614.59" y="772.60" width="4.57" height="9.80" fill="#000" />
<rect x="621.66" y="772.60" width="9.03" height="9.80" fill="#000" />
<rect x="634.40" y="772.60" width="14.29" height="9.80" fill="#000" />
<rect x="653.52" y="772.60" width="7.06" height="9.80" fill="#000" />
<rect x="663.24" y="772.60" width="1.43" height="9.80" fill="#000" />
<rect x="668.55" y="772.60" width="1.27" height="9.80" fill="#000" />
<rect x="673.17" y="772.60" width="15.40" height="9.80" fill="#000" />
<rect x="694.95" y="772.60" width="5.47" height="9.80" fill="#000" />
<rect x="703.45" y="772.60" width="1.43" height="9.80" fill="#000" />
<rect x="708.76" y="772.60" width="10.52" height="9.80" fill="#000" />
<rect x="723.26" y="772.60" width="12.06" height="9.80" fill="#000" />
<rect x="738.13" y="772.60" width="9.77" height="9.80" fill="#000" />
<g filter="url(#bl)">
<rect x="579.90" y="640.80" width="1.40" height="9.80" fill="#8a8a8a" />
<rect x="608.00" y="640.80" width="3.20" height="9.80" fill="#7a7a7a" />
<rect x="613.00" y="640.80" width="1.20" height="9.80" fill="#777" />
<rect x="579.90" y="684.80" width="1.40" height="9.80" fill="#8a8a8a" />
<rect x="608.00" y="684.80" width="3.20" height="9.80" fill="#7a7a7a" />
<rect x="613.00" y="684.80" width="1.20" height="9.80" fill="#777" />
</g>
</svg>
</body></html>
